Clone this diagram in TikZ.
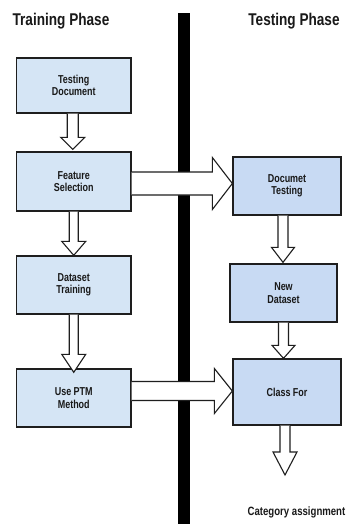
\documentclass[tikz,border=0pt]{standalone}
\usepackage{fontspec}
\setmainfont{Liberation Sans}[FakeStretch=0.84]
\newfontfamily\boxfont{Liberation Sans}[FakeStretch=0.78]
\newfontfamily\titlefont{Liberation Sans}[FakeStretch=0.80]
\usetikzlibrary{calc}
\definecolor{lbox}{HTML}{D5E5F5}
\definecolor{rbox}{HTML}{C8DAF3}
\definecolor{edge}{HTML}{1E1E1E}
\tikzset{
  box/.style={draw=edge, line width=1.3pt, rectangle, inner sep=0pt, align=center,
    font=\boxfont\bfseries\fontsize{11.5}{12.5}\selectfont, text=black!90},
  leftbox/.style={box, fill=lbox, minimum width=114.5pt},
  rightbox/.style={box, fill=rbox, minimum width=108pt},
  blockarrow/.style={draw=edge, line width=1.1pt, fill=white, line join=miter},
  title/.style={font=\titlefont\bfseries\fontsize{17}{18}\selectfont, text=black!90, inner sep=0pt},
  smalltitle/.style={font=\titlefont\bfseries\fontsize{12}{13}\selectfont, text=black!90, inner sep=0pt}
}
% vertical block arrow: #1 start, #2 end, #3 shaft half width, #4 head half width, #5 head length
\newcommand\blkV[5]{%
  \draw[blockarrow] let \p1=(#1), \p2=(#2) in
    (\x1-#3pt,\y1) -- (\x1-#3pt,\y2+#5pt) -- (\x1-#4pt,\y2+#5pt) -- (\x1,\y2)
    -- (\x1+#4pt,\y2+#5pt) -- (\x1+#3pt,\y2+#5pt) -- (\x1+#3pt,\y1);}
% horizontal block arrow
\newcommand\blkH[5]{%
  \draw[blockarrow] let \p1=(#1), \p2=(#2) in
    (\x1,\y1+#3pt) -- (\x2-#5pt,\y1+#3pt) -- (\x2-#5pt,\y1+#4pt) -- (\x2,\y1)
    -- (\x2-#5pt,\y1-#4pt) -- (\x2-#5pt,\y1-#3pt) -- (\x1,\y1-#3pt);}
\begin{document}
\begin{tikzpicture}[x=1pt,y=-1pt]
\useasboundingbox[fill=white] (0,0) rectangle (348,524);
% divider bar
\fill[black] (178,13) rectangle (190,524);
% titles
\node[title] (t1) at (61,21) {Training Phase};
\node[title] (t2) at (294,21) {Testing Phase};
% left column
\node[leftbox, minimum height=55pt] (b1) at (73.75,85.5) {Testing\\Document};
\node[leftbox, minimum height=59pt] (b2) at (73.75,181.5) {Feature\\Selection};
\node[leftbox, minimum height=58pt] (b3) at (73.75,285) {Dataset\\Training};
\node[leftbox, minimum height=58pt] (b4) at (73.75,398) {Use PTM\\Method};
% right column
\node[rightbox, minimum height=58pt] (r1) at (287,186) {Documet\\Testing};
\node[rightbox, minimum width=107pt, minimum height=58pt] (r2) at (283.5,293) {New\\Dataset};
\node[rightbox, minimum height=66pt] (r3) at (287,392) {Class For};
\coordinate (c3end) at (285,475);
\node[smalltitle] (cat) at (296.5,512) {Category assignment};
% vertical arrows
\blkV{$(b1.south)+(-1,0)$}{$(b2.north)+(0,-2)$}{5.5}{12}{12}
\blkV{$(b2.south)+(0,0)$}{b3.north}{4.5}{12}{14}
\blkV{$(b3.south)+(0,0)$}{$(b4.north)+(0,4)$}{4.5}{12}{18}
\blkV{$(r1.south)+(-4,0)$}{$(r2.north)+(0,-1)$}{5}{11.5}{15}
\blkV{$(r2.south)+(0,0)$}{r3.north}{5}{11.5}{13}
\blkV{$(r3.south)+(-2,0)$}{c3end}{5}{12}{23}
% horizontal arrows
\blkH{$(b2.east)+(0,2)$}{r1.west}{11.5}{26}{20}
\blkH{$(b4.east)+(0,-7)$}{r3.west}{9.5}{22.5}{18}
\end{tikzpicture}
\end{document}
